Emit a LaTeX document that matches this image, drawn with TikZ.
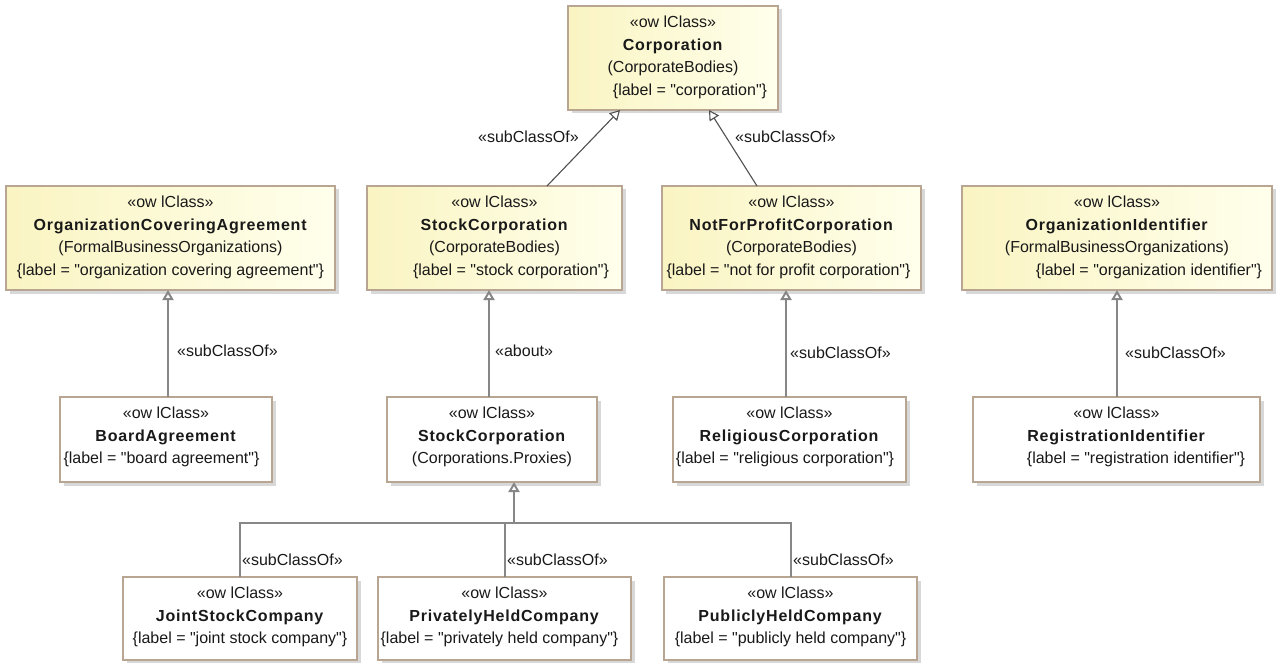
\documentclass[tikz,border=0pt]{standalone}
\usepackage{fontspec}
\newfontfamily\diagfont{Liberation Sans}[BoldFeatures={LetterSpace=5}]
\usetikzlibrary{arrows.meta,shadows}
\definecolor{bordc}{RGB}{184,166,146}
\definecolor{ylL}{RGB}{250,244,194}
\definecolor{ylR}{RGB}{255,255,236}
\definecolor{txtc}{RGB}{25,25,25}
\definecolor{linec}{RGB}{135,135,135}
\definecolor{diagc}{RGB}{80,80,80}
\begin{document}
\begin{tikzpicture}[x=1pt,y=-1pt,
  font=\diagfont\fontsize{16}{22.5}\selectfont,
  classbox/.style={draw=bordc, line width=1.4pt, inner sep=0pt, outer sep=0pt,
    drop shadow={shadow xshift=3.5pt,shadow yshift=-3.5pt,fill=black!30}},
  ybox/.style={classbox, left color=ylL, right color=ylR},
  wbox/.style={classbox, fill=white},
  ctext/.style={align=center, inner sep=0pt, text=txtc, anchor=north},
  lbl/.style={anchor=west, inner sep=0pt, text=txtc},
  gen/.style={draw=linec, line width=2pt, -{Triangle[width=11pt,length=10pt,fill=white]}},
  diag/.style={draw=diagc, line width=1.1pt, -{Triangle[width=11pt,length=10pt,fill=white]}},
  plain/.style={draw=linec, line width=2pt}
]
\fill[white] (0,0) rectangle (1280,663);
\useasboundingbox (0,0) rectangle (1280,663);

% row 1
\node[ybox, minimum width=210, minimum height=104] (corp) at (673,58) {};
\node[ctext] (corpT) at ([yshift=-10pt]corp.north) {«ow lClass»\\\textbf{Corporation}\\(CorporateBodies)\\\hspace*{34pt}\{label = "corporation"\}};

% row 2
\node[ybox, minimum width=329, minimum height=104] (oca) at (170.5,238) {};
\node[ctext] (ocaT) at ([yshift=-10pt]oca.north) {«ow lClass»\\\textbf{OrganizationCoveringAgreement}\\(FormalBusinessOrganizations)\\\{label = "organization covering agreement"\}};

\node[ybox, minimum width=255, minimum height=104] (scy) at (494.5,238) {};
\node[ctext] (scyT) at ([yshift=-10pt]scy.north) {«ow lClass»\\\textbf{StockCorporation}\\(CorporateBodies)\\\hspace*{33pt}\{label = "stock corporation"\}};

\node[ybox, minimum width=259, minimum height=104] (nfp) at (791.5,238) {};
\node[ctext] (nfpT) at ([yshift=-10pt]nfp.north) {«ow lClass»\\\textbf{NotForProfitCorporation}\\(CorporateBodies)\\\{label = "not for profit corporation"\}\hspace*{6pt}};

\node[ybox, minimum width=310, minimum height=104] (oi) at (1117,238) {};
\node[ctext] (oiT) at ([yshift=-10pt]oi.north) {«ow lClass»\\\textbf{OrganizationIdentifier}\\(FormalBusinessOrganizations)\\\hspace*{64pt}\{label = "organization identifier"\}};

% row 3
\node[wbox, minimum width=212, minimum height=85] (ba) at (166,439.5) {};
\node[ctext] (baT) at ([yshift=-10pt]ba.north) {«ow lClass»\\\textbf{BoardAgreement}\\\{label = "board agreement"\}\hspace*{9pt}};

\node[wbox, minimum width=210, minimum height=85] (scp) at (492,439.5) {};
\node[ctext] (scpT) at ([yshift=-10pt]scp.north) {«ow lClass»\\\textbf{StockCorporation}\\(Corporations.Proxies)};

\node[wbox, minimum width=233, minimum height=85] (rel) at (789.5,439.5) {};
\node[ctext] (relT) at ([yshift=-10pt]rel.north) {«ow lClass»\\\textbf{ReligiousCorporation}\\\{label = "religious corporation"\}\hspace*{9pt}};

\node[wbox, minimum width=287, minimum height=85] (reg) at (1116.5,439.5) {};
\node[ctext] (regT) at ([yshift=-10pt]reg.north) {«ow lClass»\\\textbf{RegistrationIdentifier}\\\hspace*{39pt}\{label = "registration identifier"\}};

% row 4
\node[wbox, minimum width=234, minimum height=83] (jsc) at (240,618.5) {};
\node[ctext] (jscT) at ([yshift=-10pt]jsc.north) {«ow lClass»\\\textbf{JointStockCompany}\\\{label = "joint stock company"\}};

\node[wbox, minimum width=253, minimum height=83] (phc) at (504.5,618.5) {};
\node[ctext] (phcT) at ([yshift=-10pt]phc.north) {«ow lClass»\\\textbf{PrivatelyHeldCompany}\\\{label = "privately held company"\}\hspace*{10pt}};

\node[wbox, minimum width=253, minimum height=83] (puc) at (790.5,618.5) {};
\node[ctext] (pucT) at ([yshift=-10pt]puc.north) {«ow lClass»\\\textbf{PubliclyHeldCompany}\\\{label = "publicly held company"\}};

% connectors
\draw[diag] ([xshift=52.5pt]scy.north) -- ([xshift=-53pt]corp.south);
\draw[diag] ([xshift=-34.5pt]nfp.north) -- ([xshift=36pt]corp.south);
\draw[gen] ([xshift=2pt]ba.north) -- ([xshift=-2.5pt]oca.south);
\draw[gen] ([xshift=-3pt]scp.north) -- ([xshift=-5.5pt]scy.south);
\draw[gen] ([xshift=-3.5pt]rel.north) -- ([xshift=-5.5pt]nfp.south);
\draw[gen] ([xshift=0.5pt]reg.north) -- (oi.south);

\coordinate (jn) at (514,523);
\draw[plain] (jsc.north) |- (jn);
\draw[plain] (phc.north) |- (jn);
\draw[plain] (puc.north) |- (jn);
\draw[gen] (jn) -- ([xshift=22pt]scp.south);

% labels
\node[lbl] (l1) at (478,137) {«subClassOf»};
\node[lbl] (l2) at (735,137) {«subClassOf»};
\node[lbl] (l3) at (177,351) {«subClassOf»};
\node[lbl] (l4) at (495,351) {«about»};
\node[lbl] (l5) at (790,353) {«subClassOf»};
\node[lbl] (l6) at (1125,353) {«subClassOf»};
\node[lbl] (l7) at (242,560) {«subClassOf»};
\node[lbl] (l8) at (507,560) {«subClassOf»};
\node[lbl] (l9) at (793,560) {«subClassOf»};
\end{tikzpicture}
\end{document}
